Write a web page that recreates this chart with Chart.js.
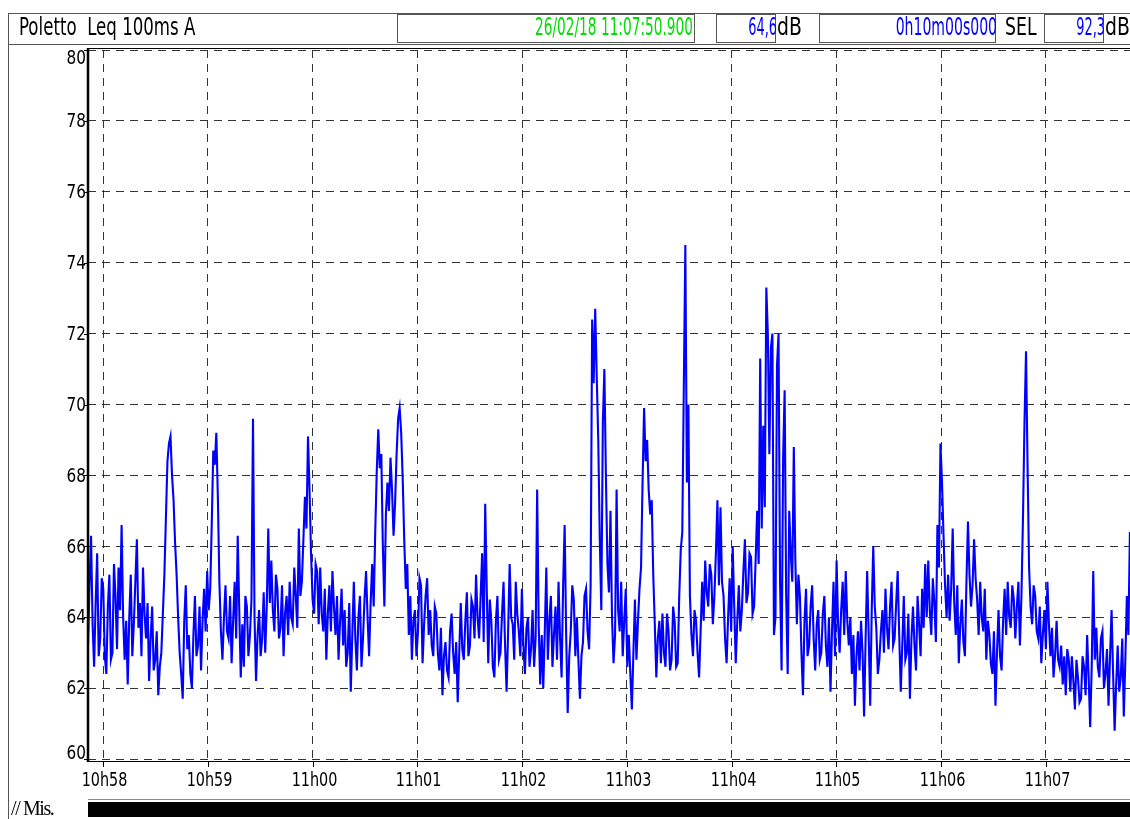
<!DOCTYPE html>
<html>
<head>
<meta charset="utf-8">
<script src="https://cdn.jsdelivr.net/npm/chart.js@4.4.0/dist/chart.umd.min.js"></script>
<style>
    body { margin: 0; background: #fff; width: 1130px; height: 819px; overflow: hidden; position: relative;
           font-family: 'Liberation Sans Narrow', 'DejaVu Sans Condensed', sans-serif; }
    #wrap { position: absolute; left: 0; top: 0; width: 1130px; height: 819px; }
    .line { position: absolute; background: #555; }
    .box { position: absolute; top: 14px; height: 29px; border: 1px solid #555; box-sizing: border-box; }
    .txt { position: absolute; top: 13px; height: 29px; line-height: 29px; font-size: 24px; white-space: nowrap; }
    .l { transform-origin: left center; }
    .r { text-align: right; transform-origin: right center; }
    #mis { position: absolute; left: 11px; top: 797px; font-family: 'Liberation Serif', serif; font-size: 20px;
           letter-spacing: -1.4px; }
    #bar { position: absolute; left: 88px; top: 802px; width: 1042px; height: 15px; background: #000; }
    #barTop { position: absolute; left: 88px; top: 799px; width: 1042px; height: 1px; background: #888; }
</style>
</head>
<body>
<div id="wrap"><canvas id="leqChart"></canvas></div>

<div class="line" style="left:8px;top:13px;width:1px;height:806px;"></div>
<div class="line" style="left:8px;top:13px;width:1122px;height:1px;"></div>
<div class="line" style="left:8px;top:44px;width:1122px;height:1px;"></div>
<div class="txt l" style="left:19px;transform:scaleX(0.77);">Poletto&nbsp; Leq 100ms A</div>
<div class="box" style="left:397px;width:298px;"></div>
<div class="txt r" style="left:397px;width:296px;color:#00dd00;transform:scaleX(0.635);">26/02/18 11:07:50.900</div>
<div class="box" style="left:716px;width:60px;"></div>
<div class="txt r" style="left:716px;width:61px;color:#0000ff;transform:scaleX(0.6);">64,6</div>
<div class="txt l" style="left:777px;transform:scaleX(0.87);">dB</div>
<div class="box" style="left:819px;width:177px;"></div>
<div class="txt r" style="left:819px;width:178px;color:#0000ff;transform:scaleX(0.65);">0h10m00s000</div>
<div class="txt l" style="left:1005px;transform:scaleX(0.8);">SEL</div>
<div class="box" style="left:1044px;width:60px;"></div>
<div class="txt r" style="left:1044px;width:61px;color:#0000ff;transform:scaleX(0.6);">92,3</div>
<div class="txt l" style="left:1105px;transform:scaleX(0.87);">dB</div>

<div id="mis">// Mis.</div>
<div id="barTop"></div>
<div id="bar"></div>

<script>
// Leq 100ms A, one reading every 0.875 s, seconds counted from 10h58:00
const startSec = -8.6;
const stepSec = 0.875;
const leqValues = [
    63.2,64.9, 66.3,63.8, 62.6,64.4, 65.8,62.9, 63.4,65.1, 64.8,62.9, 62.4,64.3, 65.2,62.8, 63.0,65.5, 64.6,63.1,
    65.4,64.2, 66.6,64.0, 62.8,63.9, 62.1,64.0, 65.2,62.9, 63.8,65.0, 66.2,63.7, 64.4,62.9, 65.4,64.1, 63.4,64.4,
    62.2,63.4, 64.3,62.5, 62.8,63.6, 61.8,62.6, 63.0,64.1, 65.2,66.8, 68.4,68.9, 69.1,68.0, 67.3,66.1, 65.2,64.0,
    63.0,62.4, 61.7,63.9, 64.9,63.1, 63.5,62.4, 62.0,63.5, 64.6,62.9, 63.2,64.3, 62.5,63.9, 64.8,63.6, 65.3,64.2,
    64.8,66.6, 68.7,68.3, 69.2,67.4, 65.0,63.6, 62.8,64.0, 64.9,63.6, 63.4,64.6, 62.7,63.9, 65.0,63.4, 66.3,64.2,
    62.3,63.8, 62.6,64.6, 64.3,62.9, 63.5,64.5, 69.6,64.0, 62.2,63.5, 64.2,62.9, 63.4,64.7, 63.0,64.3, 66.5,64.4,
    65.6,64.2, 63.6,65.2, 64.8,63.4, 63.7,64.9, 62.9,64.1, 64.6,63.5, 65.0,64.0, 63.8,65.4, 64.6,63.7, 66.5,64.6,
    65.0,66.2, 67.4,66.5, 69.1,67.6, 65.8,64.5, 64.1,65.5, 65.3,63.8, 65.4,64.1, 63.6,64.8, 62.8,64.1, 64.9,63.6,
    65.3,64.3, 63.5,64.6, 62.8,63.9, 64.8,63.2, 64.2,62.6, 63.0,64.4, 61.9,63.5, 65.0,63.4, 62.5,64.0, 64.6,62.6,
    63.4,64.5, 65.3,64.0, 62.9,64.4, 65.5,64.3, 66.4,68.1, 69.3,68.2, 68.6,66.0, 64.3,66.9, 67.8,67.0, 68.5,67.6,
    66.3,67.2, 68.6,69.6, 69.9,69.2, 67.9,66.2, 64.8,65.5, 63.5,64.6, 62.8,63.9, 64.2,62.9, 63.6,65.1, 64.9,62.7,
    63.8,64.6, 65.1,63.5, 64.2,63.2, 62.9,64.3, 64.1,63.0, 62.5,63.7, 61.8,62.9, 63.3,62.5, 62.3,63.6, 64.1,63.0,
    62.4,63.3, 61.6,63.0, 64.4,63.1, 62.8,63.9, 64.7,62.9, 63.2,64.5, 64.3,63.4, 65.2,64.0, 63.4,64.6, 65.8,63.3,
    67.2,64.8, 62.7,64.5, 63.9,62.6, 62.3,63.9, 64.6,62.8, 63.0,64.1, 65.0,63.2, 61.9,63.6, 65.5,64.0, 63.8,62.8,
    65.0,64.1, 63.6,62.9, 64.8,63.2, 62.4,63.7, 64.0,62.6, 63.1,64.2, 62.6,63.4, 67.6,63.8, 62.1,63.5, 62.0,63.6,
    65.4,62.8, 63.9,64.6, 62.6,63.5, 64.3,62.8, 65.0,63.4, 62.3,64.9, 66.6,63.5, 61.3,62.9, 63.6,64.9, 64.5,62.9,
    64.0,62.8, 61.7,62.9, 63.3,64.6, 64.8,63.6, 63.1,64.9, 72.4,70.6, 72.7,70.8, 69.0,66.2, 64.2,69.5, 71.0,68.0,
    65.5,64.7, 67.0,64.0, 62.7,63.5, 67.6,64.2, 63.6,65.0, 62.9,63.9, 64.8,62.6, 63.5,62.4, 61.4,63.0, 64.5,62.8,
    63.9,64.8, 65.4,67.8, 69.9,68.4, 69.0,67.6, 66.9,67.3, 65.2,63.8, 62.3,63.4, 63.9,62.7, 64.1,63.0, 62.6,64.1,
    63.6,62.5, 62.8,64.3, 63.9,62.6, 62.7,64.6, 65.9,66.4, 70.5,74.5, 67.8,70.0, 64.6,63.5, 62.9,64.2, 63.9,63.0,
    62.3,63.6, 65.0,63.9, 65.6,64.7, 64.3,65.5, 65.2,63.8, 64.6,65.8, 67.3,64.9, 67.1,65.0, 64.6,63.4, 62.7,64.0,
    65.1,63.6, 66.0,64.3, 62.7,63.9, 64.9,63.6, 64.2,65.3, 66.2,64.4, 64.7,65.8, 65.7,64.1, 64.3,65.6, 67.0,65.5,
    71.3,66.5, 69.4,67.1, 73.3,72.0, 68.6,71.6, 72.0,63.5, 64.0,71.1, 72.0,65.0, 62.5,68.5, 70.4,64.6, 62.4,67.0,
    65.8,65.0, 68.8,65.6, 63.8,65.2, 64.6,63.0, 61.8,63.9, 64.8,62.9, 63.2,64.3, 64.9,63.4, 62.5,63.8, 64.2,62.8,
    63.0,64.1, 64.6,63.2, 62.6,64.0, 61.9,63.6, 65.0,62.9, 65.6,63.8, 63.0,64.2, 65.0,63.5, 65.3,63.9, 63.2,64.0,
    62.4,63.5, 61.5,62.9, 63.6,62.5, 63.9,63.0, 61.2,63.4, 65.3,63.5, 61.5,64.2, 66.0,64.3, 63.7,62.4, 62.8,63.6,
    64.2,63.0, 64.8,63.7, 63.1,64.3, 65.0,63.2, 63.4,64.4, 65.3,63.5, 61.9,63.2, 64.6,62.8, 63.0,64.1, 61.7,63.4,
    64.3,63.2, 62.5,64.6, 63.8,62.9, 64.8,63.7, 65.5,64.0, 65.6,64.2, 63.5,65.1, 64.4,63.3, 66.6,65.4, 68.9,67.8,
    66.3,64.9, 64.0,65.2, 63.9,64.8, 66.5,64.4, 63.5,64.9, 62.7,63.8, 64.5,63.3, 62.9,65.0, 66.7,65.2, 64.3,64.9,
    66.2,65.1, 64.5,63.5, 65.0,64.0, 63.6,64.8, 62.8,63.9, 63.5,62.7, 62.4,63.6, 61.5,63.0, 64.2,62.9, 62.5,63.9,
    64.8,63.5, 65.0,64.0, 63.7,64.9, 64.5,63.4, 64.3,65.0, 63.2,64.6, 66.8,69.5, 71.5,68.3, 65.4,64.3, 63.8,64.9,
    64.6,63.6, 63.4,64.3, 62.7,63.5, 64.2,63.1, 65.0,63.8, 62.9,63.7, 62.3,62.9, 63.9,62.8, 62.6,63.2, 62.1,62.9,
    61.8,63.1, 62.8,61.9, 62.9,62.2, 61.4,62.8, 62.3,61.6, 61.7,62.9, 62.6,61.8, 63.5,62.3, 60.9,62.6, 65.3,62.8,
    63.7,62.6, 62.3,63.4, 63.6,62.0, 62.4,63.1, 61.5,62.9, 64.2,62.4, 60.8,62.1, 63.2,61.9, 62.3,63.4, 61.2,62.8,
    64.6,63.5, 66.4
];

const timeTicks = [0, 60, 120, 180, 240, 300, 360, 420, 480, 540];
const timeLabels = ['10h58', '10h59', '11h00', '11h01', '11h02', '11h03', '11h04', '11h05', '11h06', '11h07'];
const dbTicks = [60, 62, 64, 66, 68, 70, 72, 74, 76, 78, 80];
const dbLabels = ['60', '62', '64', '66', '68', '70', '72', '74', '76', '78', '80'];

const labelFont = "20px 'Liberation Sans Narrow', 'DejaVu Sans Condensed', sans-serif";

// narrow text: draw squeezed horizontally around its anchor
function narrowText(ctx, text, x, y, sx) {
    ctx.save();
    ctx.translate(x, y);
    ctx.scale(sx, 1);
    ctx.fillText(text, 0, 0);
    ctx.restore();
}

const axisDecor = {
    id: 'axisDecor',
    afterDraw(chart) {
        const { ctx, chartArea: a, scales: { x, y } } = chart;
        ctx.save();
        ctx.strokeStyle = '#000';
        ctx.fillStyle = '#000';

        // frame top + x axis
        ctx.lineWidth = 1;
        ctx.beginPath();
        ctx.moveTo(a.left, a.top - 1.5);
        ctx.lineTo(a.right, a.top - 1.5);
        ctx.moveTo(a.left, a.bottom + 2.5);
        ctx.lineTo(a.right, a.bottom + 2.5);
        ctx.stroke();

        // heavy y axis
        ctx.lineWidth = 2.5;
        ctx.beginPath();
        ctx.moveTo(a.left, a.top - 2);
        ctx.lineTo(a.left, a.bottom + 3);
        ctx.stroke();

        ctx.font = labelFont;
        ctx.lineWidth = 1;

        // y labels, kept inside the frame at both ends
        ctx.textAlign = 'right';
        ctx.textBaseline = 'middle';
        dbTicks.forEach((v, i) => {
            const py = y.getPixelForValue(v);
            const ly = Math.min(Math.max(py, a.top + 8), a.bottom - 6);
            ctx.beginPath();
            ctx.moveTo(a.left - 4, Math.round(py) + 0.5);
            ctx.lineTo(a.left, Math.round(py) + 0.5);
            ctx.stroke();
            narrowText(ctx, dbLabels[i], a.left - 2, ly + 1, 0.85);
        });

        // x tick marks and labels
        ctx.textAlign = 'center';
        timeTicks.forEach((v, i) => {
            const px = Math.round(x.getPixelForValue(v)) + 0.5;
            ctx.beginPath();
            ctx.moveTo(px, a.bottom + 2);
            ctx.lineTo(px, a.bottom + 8);
            ctx.stroke();
            narrowText(ctx, timeLabels[i], px + 1, a.bottom + 22, 0.8);
        });
        ctx.restore();
    }
};

const ctx = document.getElementById('leqChart').getContext('2d');
new Chart(ctx, {
    type: 'line',
    data: {
        datasets: [{
            label: 'Leq 100ms A',
            data: leqValues.map((v, i) => ({ x: startSec + i * stepSec, y: v })),
            borderColor: '#0000ff',
            borderWidth: 2.1,
            pointRadius: 0,
            tension: 0,
            fill: false
        }]
    },
    options: {
        responsive: true,
        maintainAspectRatio: false,
        animation: false,
        layout: { padding: { left: 88, top: 50, right: 0, bottom: 60 } },
        plugins: {
            legend: { display: false },
            tooltip: { enabled: false }
        },
        scales: {
            x: {
                type: 'linear',
                min: -8.6,
                max: 588.2,
                afterBuildTicks: (scale) => { scale.ticks = timeTicks.map(v => ({ value: v })); },
                ticks: { display: false },
                grid: { color: '#333', lineWidth: 1, drawTicks: false },
                border: { display: false, dash: [8, 6] }
            },
            y: {
                min: 60,
                max: 80,
                afterBuildTicks: (scale) => { scale.ticks = dbTicks.map(v => ({ value: v })); },
                ticks: { display: false },
                grid: { color: '#333', lineWidth: 1, drawTicks: false },
                border: { display: false, dash: [8, 6] }
            }
        }
    },
    plugins: [axisDecor]
});
</script>
</body>
</html>
